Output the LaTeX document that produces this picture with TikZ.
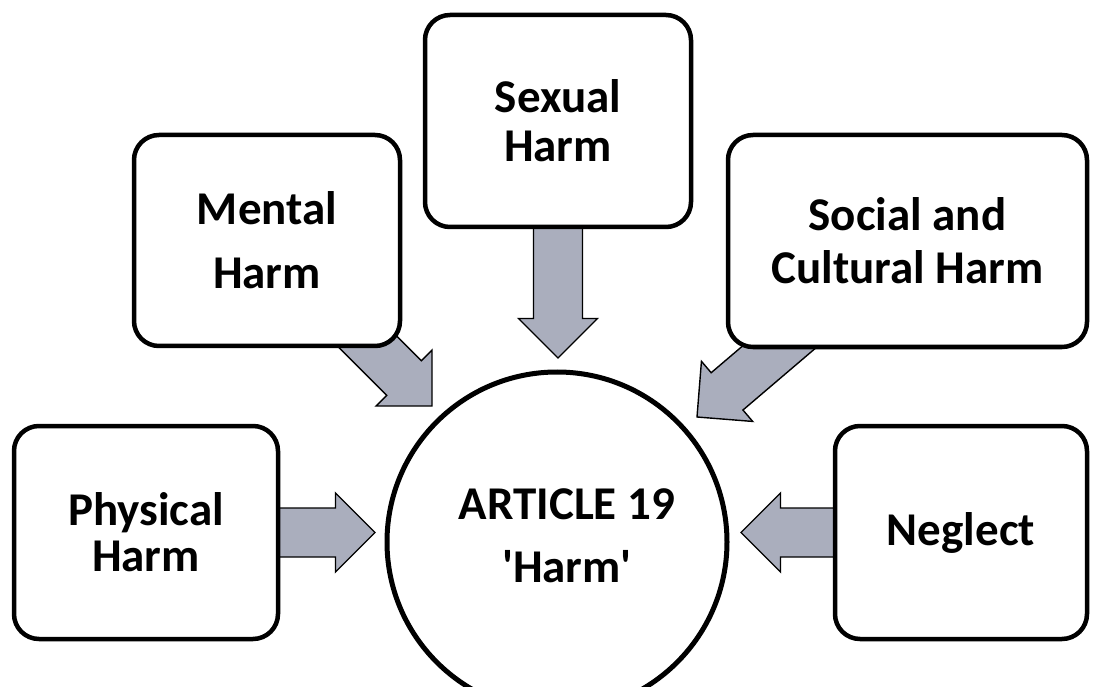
\documentclass[tikz,border=0pt]{standalone}
\usepackage{fontspec}
\setmainfont{Carlito}
\usetikzlibrary{calc}
\definecolor{arrowfill}{RGB}{170,174,189}
\tikzset{
  box/.style={draw=black, line width=4.5pt, fill=white, rounded corners=25pt,
    align=center, inner sep=0pt, font=\bfseries\fontsize{47}{46}\selectfont},
  ring/.style={draw=black, line width=5pt, fill=white, circle, inner sep=0pt},
  lbl/.style={align=center, inner sep=0pt, font=\bfseries\fontsize{47}{46}\selectfont},
  barrow/.style={draw=black, line width=1.4pt, fill=arrowfill, line join=miter},
}
% block arrow from #1 (tail) to #2 (tip)
\newcommand\blockarrow[2]{%
  \path ($(#2)!39.5pt!(#1)$) coordinate (hb) (#1) coordinate (tl);
  \draw[barrow] (#2) -- ($(hb)!39.5pt!90:(#2)$) -- ($(hb)!24.5pt!90:(#2)$)
    -- ($(tl)!24.5pt!90:(hb)$) -- ($(tl)!24.5pt!-90:(hb)$)
    -- ($(hb)!24.5pt!-90:(#2)$) -- ($(hb)!39.5pt!-90:(#2)$) -- cycle;
}
\begin{document}
\begin{tikzpicture}[x=1pt,y=-1pt]
\useasboundingbox (0,0) rectangle (1096,687);
\clip (0,0) rectangle (1096,687);
% arrow end points
\coordinate (physTail) at (250,532.5);
\coordinate (physTip)  at (375,532.5);
\coordinate (negTail)  at (860,532.5);
\coordinate (negTip)   at (741,532.5);
\coordinate (sexTail)  at (558,200);
\coordinate (sexTip)   at (558,358);
\coordinate (mentTail) at (350,324);
\coordinate (mentTip)  at (432,406);
\coordinate (socTail)  at (818.8,313.2);
\coordinate (socTip)   at (697,417);
% arrows
\blockarrow{physTail}{physTip}
\blockarrow{negTail}{negTip}
\blockarrow{sexTail}{sexTip}
\blockarrow{mentTail}{mentTip}
\blockarrow{socTail}{socTip}
% boxes
\node[box, minimum width=264pt, minimum height=213pt] (phys) at (146,532.5) {Physical\\Harm};
\node[box, minimum width=266pt, minimum height=211pt, font=\bfseries\fontsize{47}{64}\selectfont] (ment) at (267,240.5) {Mental\\Harm};
\node[box, minimum width=266pt, minimum height=212pt, font=\bfseries\fontsize{47}{49}\selectfont] (sex) at (558,121) {Sexual\\Harm};
\node[box, minimum width=359pt, minimum height=212pt, font=\bfseries\fontsize{47}{53}\selectfont] (soc) at (907.5,241) {Social and\\Cultural Harm};
\node[box, minimum width=252pt, minimum height=213pt] (neg) at (961,532.5) {Neglect};
% centre circle
\node[ring, minimum size=340pt] (art) at (557,542) {};
\node[lbl, font=\bfseries\fontsize{47}{63}\selectfont] (artText) at ($(art)+(10,-6)$) {ARTICLE 19\\\textquotesingle Harm\textquotesingle};
\end{tikzpicture}
\end{document}
